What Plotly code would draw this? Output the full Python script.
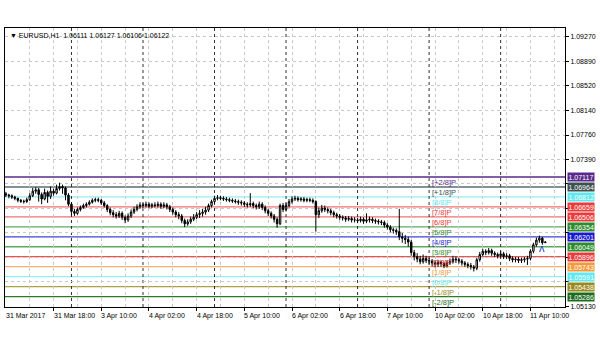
import plotly.graph_objects as go

# ---------------- data ----------------
close = [
    1.06842, 1.06830, 1.06810, 1.06790, 1.06760, 1.06745, 1.06740, 1.06770, 1.06830, 1.06900,
    1.06920, 1.06850, 1.06780, 1.06880, 1.06820, 1.06900, 1.06870, 1.06940, 1.06970, 1.06950,
    1.06840, 1.06700, 1.06590, 1.06560, 1.06620, 1.06650, 1.06680, 1.06700, 1.06730, 1.06760,
    1.06770, 1.06760, 1.06720, 1.06680, 1.06620, 1.06570, 1.06540, 1.06520, 1.06560, 1.06500,
    1.06460, 1.06520, 1.06580, 1.06620, 1.06660, 1.06690, 1.06680, 1.06700, 1.06670, 1.06690,
    1.06680, 1.06700, 1.06670, 1.06690, 1.06660, 1.06620, 1.06580, 1.06540, 1.06520, 1.06450,
    1.06400, 1.06430, 1.06470, 1.06500, 1.06540, 1.06560, 1.06580, 1.06610, 1.06680, 1.06740,
    1.06790, 1.06800, 1.06790, 1.06780, 1.06770, 1.06760, 1.06750, 1.06740, 1.06730, 1.06720,
    1.06700, 1.06690, 1.06710, 1.06680, 1.06660, 1.06700, 1.06650, 1.06600, 1.06560, 1.06520,
    1.06470, 1.06400, 1.06680, 1.06620, 1.06680, 1.06740, 1.06780, 1.06790, 1.06770, 1.06780,
    1.06760, 1.06770, 1.06760, 1.06740, 1.06540, 1.06600, 1.06640, 1.06620, 1.06600, 1.06570,
    1.06540, 1.06520, 1.06500, 1.06490, 1.06470, 1.06480, 1.06460, 1.06460, 1.06450, 1.06470,
    1.06440, 1.06460, 1.06470, 1.06450, 1.06440, 1.06430, 1.06420, 1.06380, 1.06350, 1.06310,
    1.06300, 1.06280, 1.06200, 1.06180, 1.06160, 1.06120, 1.05960, 1.05900, 1.05860, 1.05820,
    1.05870, 1.05840, 1.05830, 1.05800, 1.05780, 1.05810, 1.05790, 1.05760, 1.05800, 1.05820,
    1.05860, 1.05850, 1.05830, 1.05800, 1.05780, 1.05760, 1.05740, 1.05720, 1.05850, 1.05930,
    1.05980, 1.05960, 1.05990, 1.05950, 1.05930, 1.05910, 1.05940, 1.05900, 1.05910, 1.05870,
    1.05850, 1.05860, 1.05840, 1.05850, 1.05860, 1.05870, 1.05980, 1.06080, 1.06150, 1.06180,
    1.06111, 1.06122,
]
high = [
    1.06890, 1.06860, 1.06850, 1.06830, 1.06800, 1.06780, 1.06770, 1.06800, 1.06870, 1.06950,
    1.06960, 1.06950, 1.06880, 1.06940, 1.06910, 1.06970, 1.06940, 1.07000, 1.07030, 1.07000,
    1.06970, 1.06870, 1.06730, 1.06630, 1.06650, 1.06680, 1.06710, 1.06730, 1.06760, 1.06790,
    1.06800, 1.06800, 1.06780, 1.06750, 1.06700, 1.06650, 1.06610, 1.06580, 1.06600, 1.06590,
    1.06530, 1.06560, 1.06620, 1.06660, 1.06700, 1.06730, 1.06720, 1.06740, 1.06730, 1.06720,
    1.06730, 1.06740, 1.06730, 1.06730, 1.06720, 1.06690, 1.06650, 1.06610, 1.06580, 1.06550,
    1.06480, 1.06470, 1.06510, 1.06550, 1.06580, 1.06610, 1.06630, 1.06660, 1.06710, 1.06770,
    1.06830, 1.06840, 1.06830, 1.06820, 1.06810, 1.06800, 1.06790, 1.06780, 1.06770, 1.06760,
    1.06750, 1.06730, 1.06870, 1.06740, 1.06710, 1.06740, 1.06730, 1.06680, 1.06630, 1.06590,
    1.06550, 1.06500, 1.06710, 1.06720, 1.06720, 1.06780, 1.06820, 1.06830, 1.06820, 1.06810,
    1.06810, 1.06800, 1.06800, 1.06790, 1.06760, 1.06650, 1.06690, 1.06680, 1.06650, 1.06630,
    1.06600, 1.06570, 1.06550, 1.06530, 1.06520, 1.06520, 1.06510, 1.06500, 1.06490, 1.06510,
    1.06500, 1.06560, 1.06510, 1.06500, 1.06480, 1.06470, 1.06460, 1.06450, 1.06410, 1.06380,
    1.06340, 1.06330, 1.06630, 1.06260, 1.06230, 1.06200, 1.06150, 1.06000, 1.05950, 1.05910,
    1.05930, 1.05910, 1.05880, 1.05860, 1.05840, 1.05850, 1.05840, 1.05820, 1.05840, 1.05870,
    1.05910, 1.05900, 1.05880, 1.05860, 1.05830, 1.05810, 1.05800, 1.05770, 1.05880, 1.05970,
    1.06020, 1.06010, 1.06030, 1.06020, 1.05980, 1.05960, 1.05980, 1.05970, 1.05950, 1.05940,
    1.05900, 1.05890, 1.05890, 1.05880, 1.05890, 1.05910, 1.06010, 1.06110, 1.06190, 1.06220,
    1.06200, 1.06127,
]
low = [
    1.06810, 1.06790, 1.06780, 1.06760, 1.06730, 1.06720, 1.06710, 1.06720, 1.06750, 1.06810,
    1.06860, 1.06740, 1.06700, 1.06760, 1.06720, 1.06780, 1.06830, 1.06850, 1.06910, 1.06860,
    1.06760, 1.06670, 1.06530, 1.06520, 1.06540, 1.06590, 1.06630, 1.06650, 1.06680, 1.06710,
    1.06730, 1.06730, 1.06690, 1.06650, 1.06580, 1.06530, 1.06500, 1.06480, 1.06490, 1.06460,
    1.06410, 1.06430, 1.06490, 1.06550, 1.06590, 1.06630, 1.06640, 1.06650, 1.06640, 1.06640,
    1.06650, 1.06650, 1.06630, 1.06640, 1.06620, 1.06580, 1.06540, 1.06500, 1.06470, 1.06410,
    1.06350, 1.06370, 1.06400, 1.06440, 1.06470, 1.06490, 1.06510, 1.06540, 1.06580, 1.06650,
    1.06710, 1.06760, 1.06760, 1.06750, 1.06740, 1.06730, 1.06720, 1.06710, 1.06690, 1.06680,
    1.06660, 1.06650, 1.06660, 1.06640, 1.06620, 1.06630, 1.06610, 1.06560, 1.06520, 1.06480,
    1.06420, 1.06340, 1.06380, 1.06580, 1.06590, 1.06650, 1.06710, 1.06750, 1.06740, 1.06740,
    1.06730, 1.06730, 1.06730, 1.06710, 1.06280, 1.06490, 1.06570, 1.06580, 1.06560, 1.06530,
    1.06500, 1.06480, 1.06460, 1.06450, 1.06430, 1.06440, 1.06420, 1.06420, 1.06410, 1.06420,
    1.06400, 1.06410, 1.06420, 1.06410, 1.06400, 1.06390, 1.06380, 1.06340, 1.06310, 1.06270,
    1.06250, 1.06230, 1.06150, 1.06110, 1.06090, 1.06050, 1.05910, 1.05840, 1.05810, 1.05780,
    1.05790, 1.05800, 1.05780, 1.05750, 1.05730, 1.05740, 1.05740, 1.05720, 1.05730, 1.05770,
    1.05790, 1.05800, 1.05790, 1.05760, 1.05740, 1.05720, 1.05700, 1.05670, 1.05690, 1.05820,
    1.05900, 1.05920, 1.05930, 1.05910, 1.05890, 1.05870, 1.05880, 1.05860, 1.05860, 1.05830,
    1.05810, 1.05810, 1.05800, 1.05800, 1.05810, 1.05770, 1.05840, 1.05950, 1.06050, 1.06110,
    1.06080, 1.06106,
]
first_open = 1.06860

# x-axis time labels (bar index -> text)
time_tick_bars = [0, 16, 32, 48, 64, 80, 96, 112, 128, 144, 160, 176]
time_tick_text = ["31 Mar 2017", "31 Mar 18:00", "3 Apr 10:00", "4 Apr 02:00", "4 Apr 18:00",
                  "5 Apr 10:00", "6 Apr 02:00", "6 Apr 18:00", "7 Apr 10:00", "10 Apr 02:00",
                  "10 Apr 18:00", "11 Apr 10:00"]
# day separators (bar index of first bar of each day)
day_start_bars = [22, 46, 70, 94, 118, 142, 166]

# price axis ticks
price_ticks = [1.09270, 1.08890, 1.08520, 1.08140, 1.07760, 1.07390, 1.07010,
               1.06640, 1.06260, 1.05880, 1.05510, 1.05130]
price_tick_text = ["1.09270", "1.08890", "1.08520", "1.08140", "1.07760", "1.07390", "",
                   "", "", "", "", "1.05130"]

# Murrey Math levels
mm_values = [1.07117, 1.06964, 1.06812, 1.06659, 1.06506, 1.06354, 1.06201,
             1.06049, 1.05896, 1.05743, 1.05591, 1.05438, 1.05286]
mm_names = ["[+2/8]P", "[+1/8]P", "[8/8]P", "[7/8]P", "[6/8]P", "[5/8]P", "[4/8]P",
            "[3/8]P", "[2/8]P", "[1/8]P", "[0/8]P", "[-1/8]P", "[-2/8]P"]
mm_colors = ["#5a2a8c", "#3c5050", "#5ee8f0", "#ec3a3a", "#ec3a3a", "#2e8b2e", "#1a1ad0",
             "#2e8b2e", "#ec3a3a", "#f59a3a", "#5ee8f0", "#9a8a1e", "#1e6a1e"]
mm_line_colors = ["#5a2a8c", "#5a6e6e", "#8ff0f5", "#f07070", "#f07070", "#60a860", "#4040d8",
                  "#60a860", "#f05050", "#f5b070", "#8ff0f5", "#b0a040", "#2a7a2a"]

title_text = "EURUSD,H1  1.06111 1.06127 1.06106 1.06122"

# ---------------- figure ----------------
n = len(close)
idx = list(range(n))
opens = [first_open] + close[:-1]

fig = go.Figure()

FONT = "Liberation Sans"

# level lines (behind bars)
for v, lc in zip(mm_values, mm_line_colors):
    fig.add_shape(type="line", xref="paper", x0=0, x1=1, yref="y", y0=v, y1=v,
                  line=dict(color=lc, width=1.3), layer="below")

# day separators
for b in day_start_bars:
    fig.add_shape(type="line", xref="x", x0=b, x1=b, yref="paper", y0=0, y1=1,
                  line=dict(color="#303030", width=1, dash="dot"), layer="below")

fig.add_trace(go.Candlestick(
    x=idx, open=opens, high=high, low=low, close=close,
    increasing=dict(line=dict(color="black", width=1), fillcolor="white"),
    decreasing=dict(line=dict(color="black", width=1), fillcolor="black"),
    whiskerwidth=0, hoverinfo="skip", showlegend=False,
))

# level labels on chart and value boxes on the price axis
for v, name, c in zip(mm_values, mm_names, mm_colors):
    fig.add_annotation(x=142, y=v, xref="x", yref="y", text=name, showarrow=False,
                       xanchor="left", yanchor="top", xshift=1, yshift=1,
                       font=dict(family=FONT, size=7.5, color=c))
    fig.add_annotation(x=1, y=v, xref="paper", yref="y", text=f"{v:.5f}", showarrow=False,
                       xanchor="left", yanchor="middle", xshift=2,
                       bgcolor=c, borderpad=0.5,
                       font=dict(family=FONT, size=7, color="white"))

# time labels
for b, t in zip(time_tick_bars, time_tick_text):
    fig.add_annotation(x=b, y=0, xref="x", yref="paper", text=t, showarrow=False,
                       xanchor="left", yanchor="top", xshift=-2, yshift=-3,
                       font=dict(family=FONT, size=7, color="black"))

# title
fig.add_annotation(x=0, y=1, xref="paper", yref="paper", text="\u25BC " + title_text,
                   showarrow=False, xanchor="left", yanchor="top", xshift=3, yshift=-2,
                   font=dict(family=FONT, size=7, color="black"))

# arrow marker
fig.add_annotation(x=180, y=1.06030, xref="x", yref="y", text="\u028C", showarrow=False,
                   font=dict(family=FONT, size=11, color="#2040d0"))

fig.update_layout(
    width=600, height=350,
    margin=dict(l=4, r=34, t=28, b=43),
    paper_bgcolor="white", plot_bgcolor="white",
    showlegend=False,
    xaxis=dict(
        range=[-0.3, 187.6], rangeslider=dict(visible=False),
        tickmode="array", tickvals=time_tick_bars[1:], showticklabels=False,
        ticks="outside", ticklen=3, tickcolor="black",
        showgrid=True, gridcolor="#c8c8c8", griddash="dot", gridwidth=1,
        minor=dict(tickmode="linear", tick0=0, dtick=8, showgrid=True,
                   gridcolor="#c8c8c8", griddash="dot", ticks=""),
        showline=True, linecolor="black", linewidth=1, mirror=True, zeroline=False,
    ),
    yaxis=dict(
        side="right", range=[1.05126, 1.09399],
        tickmode="array", tickvals=price_ticks, ticktext=price_tick_text,
        ticks="outside", ticklen=3, tickcolor="black",
        tickfont=dict(family=FONT, size=7, color="black"),
        showgrid=True, gridcolor="#c8c8c8", griddash="dot", gridwidth=1,
        showline=True, linecolor="black", linewidth=1, mirror=True, zeroline=False,
    ),
)

fig.write_html("out.html")
